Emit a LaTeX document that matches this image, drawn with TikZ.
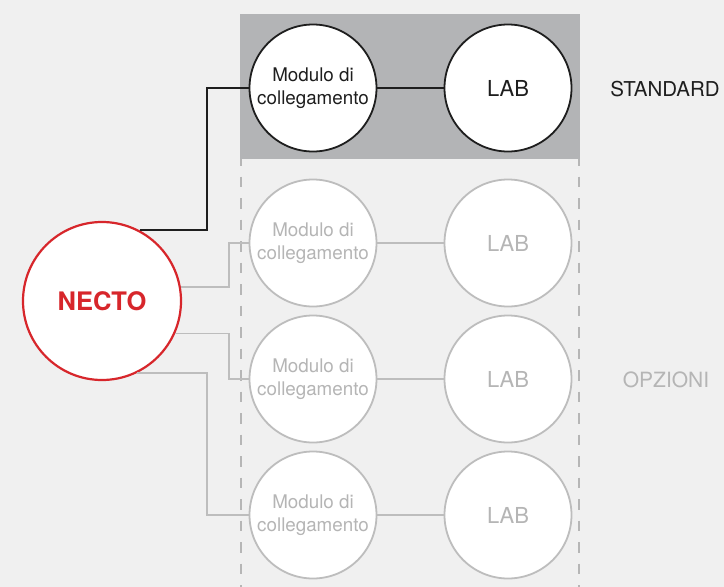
\documentclass[tikz,border=0pt]{standalone}
\usepackage{fontspec}
\setmainfont{TeX Gyre Heros}
\definecolor{bgc}{HTML}{F0F0F0}
\definecolor{boxc}{HTML}{B3B4B6}
\definecolor{darkc}{HTML}{1E1E1E}
\definecolor{lightc}{HTML}{BDBDBD}
\definecolor{dashc}{HTML}{B6B6B6}
\definecolor{lighttext}{HTML}{B5B5B5}
\definecolor{nectored}{HTML}{D7262B}
\tikzset{
  modbox/.style={circle, minimum size=127pt, inner sep=0pt, fill=white, line width=1.8pt, align=center, font=\fontsize{18.8}{23}\selectfont},
  labbox/.style={circle, minimum size=127pt, inner sep=0pt, fill=white, line width=1.8pt, font=\fontsize{22}{26}\selectfont},
  stdnode/.style={draw=darkc, text=darkc},
  optnode/.style={draw=lightc, text=lighttext},
  darkline/.style={draw=darkc, line width=1.8pt},
  lightline/.style={draw=lightc, line width=1.8pt},
  dashline/.style={draw=dashc, line width=2.7pt, dash pattern=on 10.7pt off 10.8pt},
}
\begin{document}
\begin{tikzpicture}[x=1pt,y=-1pt]
\useasboundingbox (0,0) rectangle (724,587);
\fill[bgc] (0,0) rectangle (724,587);
% dashed frame lines
\coordinate (dl1) at (241,155);
\coordinate (dl2) at (241,590);
\coordinate (dr1) at (579,155);
\coordinate (dr2) at (579,590);
\draw[dashline] (dl1) -- (dl2);
\draw[dashline] (dr1) -- (dr2);
% standard box
\fill[boxc] (240,14) rectangle (580,159);
% nodes
\node[modbox, stdnode] (mod0) at (313,88) {Modulo di\\collegamento};
\node[labbox, stdnode] (lab0) at (508,88) {LAB};
\node[modbox, optnode] (mod1) at (313,243) {Modulo di\\collegamento};
\node[labbox, optnode] (lab1) at (508,243) {LAB};
\node[modbox, optnode] (mod2) at (313,379) {Modulo di\\collegamento};
\node[labbox, optnode] (lab2) at (508,379) {LAB};
\node[modbox, optnode] (mod3) at (313,515) {Modulo di\\collegamento};
\node[labbox, optnode] (lab3) at (508,515) {LAB};
\node[circle, minimum size=158pt, inner sep=0pt, fill=white, draw=nectored, line width=2.2pt, text=nectored, font=\fontsize{25.5}{30}\selectfont\bfseries] (necto) at (102,301) {NECTO};
\node[text=darkc, font=\fontsize{20.5}{24}\selectfont] (std) at (665,89) {STANDARD};
\node[text=lighttext, font=\fontsize{21}{25}\selectfont] (opz) at (666,380) {OPZIONI};
% corner coordinates
\coordinate (c0) at (207,88);
\coordinate (c1) at (229,243);
\coordinate (c2) at (229,379);
\coordinate (c3) at (207,515);
% connectors
\draw[darkline] (necto.62.4) -| (c0) -- (mod0.west);
\draw[darkline] (mod0.east) -- (lab0.west);
\draw[lightline] (necto.10.2) -| (c1) -- (mod1.west);
\draw[lightline] (necto.-24.7) -| (c2) -- (mod2.west);
\draw[lightline] (necto.-64) -| (c3) -- (mod3.west);
\draw[lightline] (mod1.east) -- (lab1.west);
\draw[lightline] (mod2.east) -- (lab2.west);
\draw[lightline] (mod3.east) -- (lab3.west);
\end{tikzpicture}
\end{document}
